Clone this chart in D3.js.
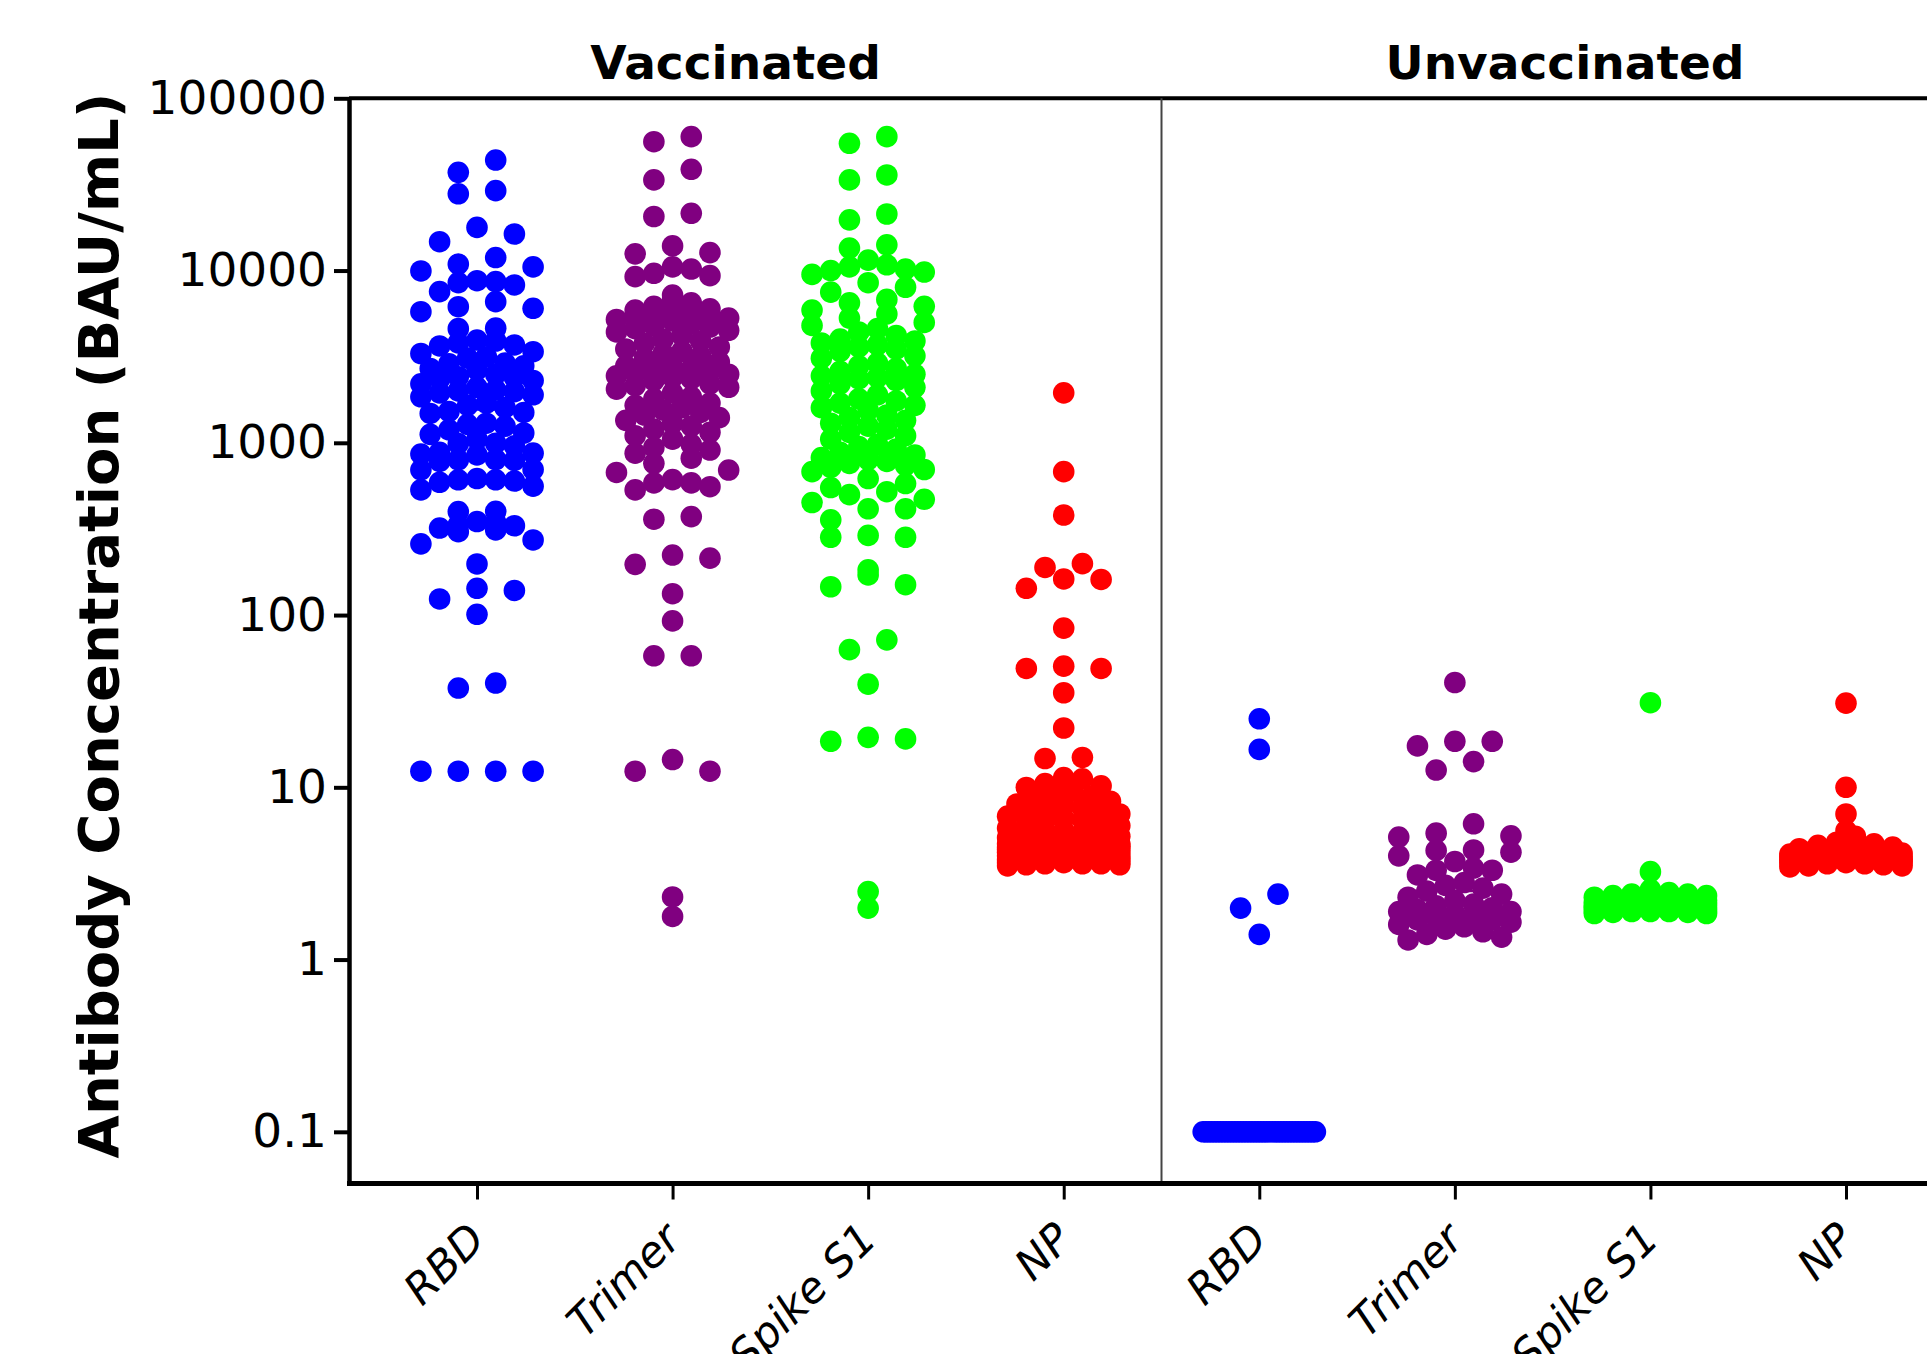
<!DOCTYPE html>
<html>
<head>
<meta charset="utf-8">
<script src="https://cdn.jsdelivr.net/npm/d3@7"></script>
<style>
  body { margin: 0; background: #ffffff; }
  svg { display: block; }
</style>
</head>
<body>
<svg id="chart" width="1927" height="1354"></svg>
<script>
// ---- data -------------------------------------------------------------
const panels = ["Vaccinated", "Unvaccinated"];
const antigens = ["RBD", "Trimer", "Spike S1", "NP"];
const antigenColors = ["#0000ff", "#800080", "#00ff00", "#ff0000"];
const yTicks = [0.1, 1, 10, 100, 1000, 10000, 100000];
const yTickLabels = ["0.1", "1", "10", "100", "1000", "10000", "100000"];
const yTitle = "Antibody Concentration (BAU/mL)";

// antibody concentrations, BAU/mL
const vaccinatedRBD = [43800, 37200, 29100, 27900, 17800, 16300, 14700, 11900, 10900, 10500,
  9950, 8730, 8630, 8510, 8250, 7550, 6600, 6170, 6040, 5770,
  4630, 4600, 3950, 3900, 3800, 3700, 3650, 3380, 3300, 3160, 3100,
  2900, 2880, 2800, 2700, 2650, 2500, 2420, 2400, 2350, 2300, 2200, 2100, 2030, 2000,
  1980, 1950, 1900, 1850, 1700, 1650, 1600, 1520, 1500, 1480, 1300, 1280, 1250, 1190, 1140, 1120, 1050,
  995, 990, 960, 880, 871, 860, 850, 800, 797, 790, 780, 700, 697, 620, 610, 610, 600, 590, 560, 533,
  400, 399, 349, 345, 334, 330, 320, 312, 305, 273, 259, 198, 143, 139, 124, 101,
  40.3, 37.7, 12.4, 12.4, 12.4, 12.4];

const vaccinatedTrimer = [59900, 56000, 38700, 33600, 21500, 20600, 13900, 12700, 12500, 10500, 10200, 9640, 9340, 9220,
  7210, 6800, 6500, 6200, 6000, 5900, 5800, 5700, 5600, 5500, 5400, 5300, 5200, 5100,
  4900, 4800, 4700, 4600, 4500, 4400, 4200, 4000, 3900, 3800, 3600, 3500, 3400, 3300, 3200, 3100,
  2950, 2800, 2750, 2700, 2650, 2600, 2550, 2500, 2450, 2400, 2350, 2300, 2200, 2150, 2100, 2050,
  1950, 1850, 1800, 1700, 1650, 1600, 1550, 1500, 1450, 1400, 1350, 1300, 1250, 1200, 1150, 1100, 1050,
  980, 940, 908, 870, 814, 760, 695, 673, 611, 585, 585, 556, 533,
  373, 360, 223, 214, 197, 133,
  92.5, 58, 58, 14.5, 12.4, 12.4, 2.31, 1.78];

const vaccinatedSpike = [59900, 54800, 35900, 33600, 21300, 19700, 14100, 13500, 11500, 10800, 10500, 10200, 10000, 9800, 9500,
  8500, 8000, 7500, 6800, 6500, 6200, 5900, 5600, 5300, 5000,
  4800, 4600, 4400, 4200, 4000, 3900, 3800, 3700, 3600, 3500, 3400, 3200, 3100,
  2900, 2800, 2700, 2600, 2500, 2450, 2400, 2350, 2300, 2200, 2100, 2000,
  1900, 1800, 1750, 1700, 1650, 1600, 1550, 1450, 1400, 1350, 1300, 1250, 1200, 1150, 1100, 1050,
  980, 950, 920, 880, 850, 820, 800, 780, 760, 740, 720, 700, 680, 620, 580, 550, 520, 500,
  470, 450, 414, 414, 357, 290, 283, 283, 183, 171, 150, 146,
  71.8, 63, 39.7, 19.5, 19.1, 18.5, 2.48, 1.99];

const vaccinatedNP = [1950, 680, 381, 199, 189, 162, 161, 143, 84, 50.5, 49, 49, 35.4, 22.1, 14.9, 14.7,
  11.4, 11.2, 10.5, 10.2, 9.98,
  9.5, 9.2, 8.9, 8.6, 8.3, 8.0, 7.8, 7.6, 7.4, 7.2, 7.0, 7.0, 6.8, 6.6, 6.5, 6.4, 6.2, 6.0, 6.0, 5.8,
  5.6, 5.5, 5.5, 5.4, 5.3, 5.2, 5.1, 5.0, 5.0, 4.9, 4.85,
  4.75, 4.7, 4.7, 4.7, 4.65, 4.6, 4.6, 4.6, 4.55, 4.5, 4.5, 4.5, 4.45, 4.4, 4.4, 4.4, 4.35, 4.3, 4.3, 4.3,
  4.25, 4.2, 4.2, 4.2, 4.15, 4.1, 4.1, 4.1, 4.05, 4.0, 4.0, 4.0, 3.95, 3.9, 3.9, 3.9, 3.85, 3.8, 3.8, 3.8,
  3.75, 3.7, 3.7, 3.7, 3.65, 3.65, 3.6, 3.6, 3.6, 3.55, 3.55, 3.5];

const unvaccinatedRBD = [25.0, 16.6, 2.40, 1.99, 1.40,
  0.1, 0.1, 0.1, 0.1, 0.1, 0.1, 0.1, 0.1, 0.1, 0.1, 0.1, 0.1, 0.1, 0.1, 0.1, 0.1, 0.1, 0.1, 0.1, 0.1,
  0.1, 0.1, 0.1, 0.1, 0.1, 0.1, 0.1, 0.1, 0.1, 0.1, 0.1, 0.1, 0.1, 0.1, 0.1, 0.1, 0.1, 0.1, 0.1, 0.1];

const unvaccinatedTrimer = [40.6, 18.5, 18.5, 17.4, 14.1, 12.6, 6.14, 5.42, 5.23, 5.14, 4.33, 4.3, 4.2, 4.0,
  3.71, 3.4, 3.3, 3.3, 3.1,
  2.8, 2.7, 2.6, 2.5, 2.4, 2.3, 2.2, 2.1, 2.05, 2.0, 1.95, 1.9, 1.9, 1.85, 1.8, 1.75, 1.7, 1.7, 1.65,
  1.6, 1.55, 1.5, 1.45, 1.4, 1.35, 1.3];

const unvaccinatedSpike = [31.0, 3.24,
  2.55, 2.5, 2.45, 2.4, 2.4, 2.35, 2.35, 2.3, 2.3, 2.25, 2.25, 2.2, 2.2, 2.2, 2.15, 2.15, 2.15,
  2.1, 2.1, 2.1, 2.1, 2.05, 2.05, 2.05, 2.05, 2.0, 2.0, 2.0, 2.0, 1.98, 1.98, 1.95, 1.95, 1.95,
  1.92, 1.92, 1.9, 1.9, 1.9, 1.88, 1.88, 1.85, 1.85];

const unvaccinatedNP = [30.8, 10.0, 7.0, 5.6, 5.2, 4.8,
  4.7, 4.6, 4.5, 4.4, 4.4, 4.3, 4.3, 4.2, 4.2, 4.15, 4.1, 4.1, 4.05, 4.0, 4.0, 4.0, 3.95, 3.95,
  3.9, 3.9, 3.9, 3.85, 3.85, 3.8, 3.8, 3.8, 3.75, 3.75, 3.7, 3.7, 3.7, 3.65, 3.65, 3.6, 3.6,
  3.55, 3.5, 3.5, 3.45];

const groupValues = [
  [vaccinatedRBD, vaccinatedTrimer, vaccinatedSpike, vaccinatedNP],
  [unvaccinatedRBD, unvaccinatedTrimer, unvaccinatedSpike, unvaccinatedNP]
];

// ---- layout -------------------------------------------------------------
const plotLeft = 349, plotRight = 1927, plotTop = 98.3, plotBottom = 1183.5;
const R = 10.8;           // dot radius
const UNIT = 18.7;        // horizontal slot width of the swarm
const BIN_H = 15;         // vertical extent of one swarm row (px)
const ROW_MAX = 7;        // dots per swarm row before a new row starts
const SAME_Y = 1;         // dots closer than this (px) always share a row
const FONT = "'DejaVu Sans', Verdana, sans-serif";

const svg = d3.select("#chart");

const groups = [];
panels.forEach((p, pi) => antigens.forEach((a, ai) => {
  groups.push({ key: p + "|" + a, panel: p, antigen: a, color: antigenColors[ai], values: groupValues[pi][ai] });
}));

const x = d3.scalePoint().domain(groups.map(g => g.key)).range([477, 1846]);
const y = d3.scaleLog().domain([Math.pow(10, -1.3), 100000]).range([plotBottom, plotTop]);

// swarm: rows of nearby values spread over fixed slots around the category centre;
// rows holding more dots than slots are squeezed into the full width
function swarm(values, cx) {
  const pts = values.map((v, i) => ({ v, i, y: y(v) }));
  const sorted = pts.slice().sort((a, b) => a.v - b.v || a.i - b.i);
  const rows = [];
  let cur = null;
  for (const p of sorted) {
    const dy = cur ? Math.abs(cur.y0 - p.y) : Infinity;
    if (dy > BIN_H || (cur.pts.length >= ROW_MAX && dy > SAME_Y)) {
      cur = { y0: p.y, pts: [] };
      rows.push(cur);
    }
    cur.pts.push(p);
  }
  rows.forEach(r => {
    const n = r.pts.length;
    const step = n <= 4 ? 2 * UNIT : (n <= ROW_MAX ? UNIT : 6 * UNIT / (n - 1));
    const slots = d3.range(n).map(k => (k - (n - 1) / 2) * step)
      .sort((a, b) => Math.abs(a) - Math.abs(b) || b - a);
    r.pts.slice().sort((a, b) => b.v - a.v || a.i - b.i)
      .forEach((p, k) => { p.x = cx + slots[k]; });
  });
  return pts;
}

// median lines (behind the dots)
const gMed = svg.append("g");
groups.forEach(g => {
  const m = d3.median(g.values);
  const cx = x(g.key);
  gMed.append("line")
    .attr("x1", cx - 47).attr("x2", cx + 47)
    .attr("y1", y(m)).attr("y2", y(m))
    .attr("stroke", g.color).attr("stroke-width", 2.5);
});

// dots
const gDots = svg.append("g");
groups.forEach(g => {
  const pts = swarm(g.values, x(g.key));
  gDots.append("g").selectAll("circle").data(pts).join("circle")
    .attr("cx", d => d.x).attr("cy", d => d.y).attr("r", R)
    .attr("fill", g.color);
});

// frame: top line and panel divider
const divX = (x(groups[3].key) + x(groups[4].key)) / 2;
svg.append("line").attr("x1", plotLeft).attr("x2", plotRight)
  .attr("y1", plotTop).attr("y2", plotTop)
  .attr("stroke", "#000").attr("stroke-width", 4);
svg.append("line").attr("x1", divX).attr("x2", divX)
  .attr("y1", plotTop).attr("y2", plotBottom)
  .attr("stroke", "#444").attr("stroke-width", 2);

// y axis
const gy = svg.append("g").attr("transform", `translate(${plotLeft},0)`)
  .call(d3.axisLeft(y).tickValues(yTicks).tickFormat((d, i) => yTickLabels[i])
    .tickSize(15).tickPadding(7).tickSizeOuter(0));
gy.attr("font-size", null).attr("font-family", null);
gy.select(".domain").attr("stroke", "#000").attr("stroke-width", 4.5);
gy.selectAll(".tick line").attr("stroke", "#000").attr("stroke-width", 4);
gy.selectAll(".tick text").attr("fill", "#000")
  .style("font-family", FONT).style("font-size", "47px");

// x axis
svg.append("line").attr("x1", plotLeft - 2).attr("x2", plotRight)
  .attr("y1", plotBottom).attr("y2", plotBottom)
  .attr("stroke", "#000").attr("stroke-width", 5);
const gx = svg.append("g").attr("transform", `translate(0,${plotBottom})`)
  .call(d3.axisBottom(x).tickSize(16).tickSizeOuter(0).tickFormat(k => k.split("|")[1]));
gx.attr("font-size", null).attr("font-family", null);
gx.select(".domain").remove();
gx.selectAll(".tick line").attr("stroke", "#000").attr("stroke-width", 3);
gx.selectAll(".tick text")
  .attr("x", 0).attr("y", 0).attr("dy", 0)
  .attr("transform", "translate(10,58) rotate(-45)")
  .attr("text-anchor", "end").attr("fill", "#000")
  .style("font-family", FONT).style("font-style", "italic").style("font-size", "43px");

// panel titles
const titleX = [735.6, 1565];
panels.forEach((p, i) => {
  svg.append("text").attr("x", titleX[i]).attr("y", 78.7)
    .attr("text-anchor", "middle")
    .style("font-family", FONT).style("font-weight", "bold").style("font-size", "47px")
    .text(p);
});

// y axis title
svg.append("text")
  .attr("transform", "translate(118,625.6) rotate(-90)")
  .attr("text-anchor", "middle")
  .style("font-family", FONT).style("font-weight", "bold").style("font-size", "56px")
  .text(yTitle);
</script>
</body>
</html>
